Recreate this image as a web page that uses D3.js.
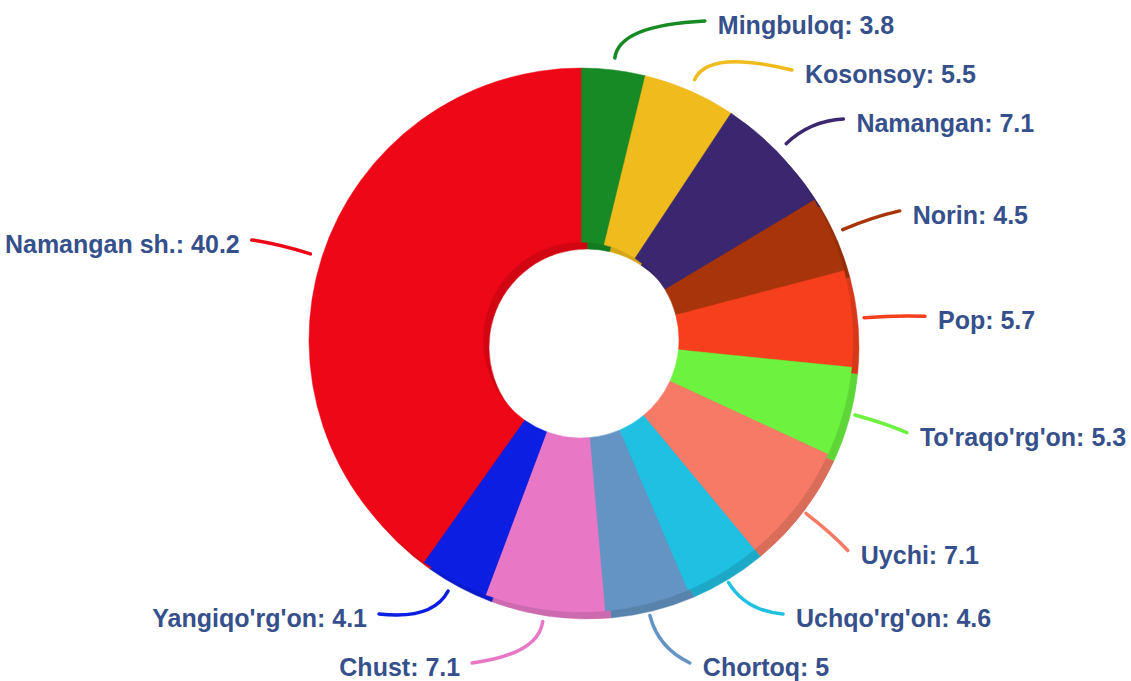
<!DOCTYPE html>
<html>
<head>
<meta charset="utf-8">
<script src="https://cdn.jsdelivr.net/npm/d3@7"></script>
<style>
  html, body { margin: 0; padding: 0; background: #fff; }
  svg { display: block; }
</style>
</head>
<body>
<div id="chart"></div>
<script>
const districts = ["Mingbuloq", "Kosonsoy", "Namangan", "Norin", "Pop", "To'raqo'rg'on",
                   "Uychi", "Uchqo'rg'on", "Chortoq", "Chust", "Yangiqo'rg'on", "Namangan sh."];
const shares = [3.8, 5.5, 7.1, 4.5, 5.7, 5.3, 7.1, 4.6, 5, 7.1, 4.1, 40.2];
const sliceColors = ["#178a25", "#f0bb1c", "#3a2770", "#a8340a", "#f53f1d", "#6cf23f",
                     "#f77a66", "#20c0e2", "#6494c4", "#e878c6", "#0b1ee2", "#ee0716"];

const width = 1131, height = 681;
const cx = 581, cy = 340;
const outerR = 272, innerR = 98;
const depth = {x: 6, y: 7};
// label layout
const labelCy = 343, labelR = 340, labelRTop = 345, labelRBottom = 338;
const minY = 21, maxY = 663, minGap = 49;
const toRad = Math.PI / 180;

const data = districts.map((name, i) => ({name, value: shares[i], color: sliceColors[i]}));

const svg = d3.select("#chart").append("svg")
    .attr("width", width)
    .attr("height", height);

const pie = d3.pie().value(d => d.value).sort(null);
const arcs = pie(data);

const arc = d3.arc().innerRadius(innerR).outerRadius(outerR);

const g = svg.append("g").attr("transform", `translate(${cx},${cy})`);

// side wall / depth
g.append("g")
    .attr("transform", `translate(${depth.x},${depth.y})`)
  .selectAll("path")
  .data(arcs)
  .join("path")
    .attr("d", arc)
    .attr("fill", d => d3.color(d.data.color).darker(0.35))
    .attr("stroke", d => d3.color(d.data.color).darker(0.35))
    .attr("stroke-width", 0.5);

// top face
g.append("g")
  .selectAll("path")
  .data(arcs)
  .join("path")
    .attr("d", arc)
    .attr("fill", d => d.data.color)
    .attr("stroke", d => d.data.color)
    .attr("stroke-width", 0.5);

const pt = (ang, r) => [r * Math.sin(ang * toRad), -r * Math.cos(ang * toRad)];

// natural label heights (absolute y)
arcs.forEach(d => {
  d.mid = (d.startAngle + d.endAngle) / 2 / toRad;
  d.right = d.mid < 180;
  d.ly = labelCy - labelR * Math.cos(d.mid * toRad);
});

// keep labels in bounds and apart, per side
function resolve(items) {
  items.sort((a, b) => a.ly - b.ly);
  items.forEach((d, i) => {
    d.ly = Math.max(d.ly, minY);
    if (i > 0) d.ly = Math.max(d.ly, items[i - 1].ly + minGap);
  });
  for (let i = items.length - 1; i >= 0; i--) {
    items[i].ly = Math.min(items[i].ly, maxY);
    if (i < items.length - 1) items[i].ly = Math.min(items[i].ly, items[i + 1].ly - minGap);
  }
}
resolve(arcs.filter(d => d.right));
resolve(arcs.filter(d => !d.right));

arcs.forEach(d => {
  const dy = d.ly - labelCy;
  const R = dy < 0 ? labelRTop : labelRBottom;
  const dx = Math.sqrt(Math.max(0, R * R - dy * dy));
  d.end = [(d.right ? dx : -dx), d.ly - cy];
});

const leader = d => {
  const p0 = pt(d.mid, outerR + 12);
  const c = pt(d.mid, outerR + 45);
  const p1 = d.end;
  return `M${p0[0]},${p0[1]} Q${c[0]},${c[1]} ${p1[0]},${p1[1]}`;
};

g.append("g")
  .selectAll("path")
  .data(arcs)
  .join("path")
    .attr("d", leader)
    .attr("fill", "none")
    .attr("stroke", d => d.data.color)
    .attr("stroke-width", 3.5)
    .attr("stroke-linecap", "round");

g.append("g")
  .selectAll("text")
  .data(arcs)
  .join("text")
    .attr("x", d => d.end[0] + (d.right ? 13 : -12))
    .attr("y", d => d.end[1] + 13)
    .attr("text-anchor", d => d.right ? "start" : "end")
    .attr("font-family", "'Liberation Sans', Arial, sans-serif")
    .attr("font-weight", "bold")
    .attr("font-size", "25px")
    .attr("fill", "#36508c")
    .text(d => `${d.data.name}: ${d.data.value}`);
</script>
</body>
</html>
